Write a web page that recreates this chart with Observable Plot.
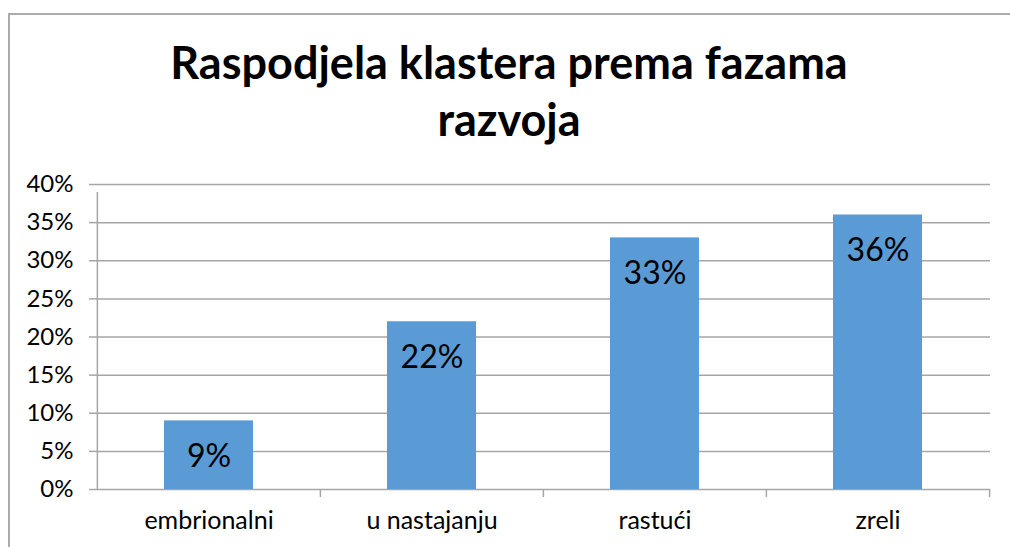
<!DOCTYPE html>
<html>
<head>
<meta charset="utf-8">
<script src="https://cdn.jsdelivr.net/npm/d3@7"></script>
<script src="https://cdn.jsdelivr.net/npm/@observablehq/plot@0.6"></script>
<style>
  html, body { margin: 0; padding: 0; background: #fff; overflow: hidden; }
  #wrap { position: relative; width: 1010px; height: 547px; overflow: hidden; }
  #title {
    height: 170px; box-sizing: border-box; padding-top: 34px;
    width: 1010px; padding-left: 8px; text-align: center;
    font-family: Lato, sans-serif; font-weight: bold; font-size: 45px; line-height: 57px; color: #000;
  }
  .fline { position: absolute; background: #ababab; pointer-events: none; }
  #ftop { left: 8px; top: 13px; width: 1002px; height: 2px; }
  #fleft { left: 8px; top: 13px; width: 2px; height: 534px; }
  #chart svg { display: block; }
</style>
</head>
<body>
<div id="wrap">
  <div id="title">Raspodjela klastera prema fazama<br>razvoja</div>
  <div id="chart"></div>
  <div class="fline" id="ftop"></div>
  <div class="fline" id="fleft"></div>
</div>
<script>
const categories = ["embrionalni", "u nastajanju", "rastući", "zreli"];
const values = [0.09, 0.22, 0.33, 0.36];
const yTicks = [0, 0.05, 0.10, 0.15, 0.20, 0.25, 0.30, 0.35, 0.40];

const data = categories.map((c, i) => ({category: c, value: values[i]}));

const W = 1010, ML = 97, MR = 20;
const step = (W - ML - MR) / categories.length;
const pct = d3.format(".0%");
const grey = "#a6a6a6";

const chart = Plot.plot({
  width: W,
  height: 377,
  marginLeft: ML,
  marginRight: MR,
  marginTop: 14,
  marginBottom: 58,
  style: {fontFamily: "Lato, sans-serif", background: "transparent", overflow: "visible", color: "#000"},
  x: {domain: categories, paddingInner: 0.6, paddingOuter: 0.3, label: null},
  y: {domain: [0, 0.4], label: null},
  marks: [
    Plot.gridY(yTicks, {stroke: grey, strokeOpacity: 1, strokeWidth: 1.5}),
    Plot.axisY(yTicks, {tickFormat: pct, tickSize: 8, tickPadding: 16, fontSize: 24, stroke: grey, strokeWidth: 1.5, fill: "#000", label: null}),
    Plot.ruleX([categories[0]], {y1: 0, y2: 0.4, insetBottom: -8, dx: -step / 2, stroke: grey, strokeWidth: 1.5}),
    Plot.ruleX(categories.slice(1), {y1: 0, y2: 0, insetBottom: -8, dx: -step / 2, stroke: grey, strokeWidth: 1.5}),
    Plot.ruleX([categories[categories.length - 1]], {y1: 0, y2: 0, insetBottom: -8, dx: step / 2, stroke: grey, strokeWidth: 1.5}),
    Plot.barY(data, {x: "category", y: "value", fill: "#5b9bd5"}),
    Plot.text(data, {x: "category", y: "value", text: d => pct(d.value), dy: 36, fontSize: 32, fill: "#000"}),
    Plot.axisX({tickSize: 0, tickPadding: 22, fontSize: 25, fill: "#000", label: null})
  ]
});
document.getElementById("chart").appendChild(chart);
</script>
</body>
</html>
